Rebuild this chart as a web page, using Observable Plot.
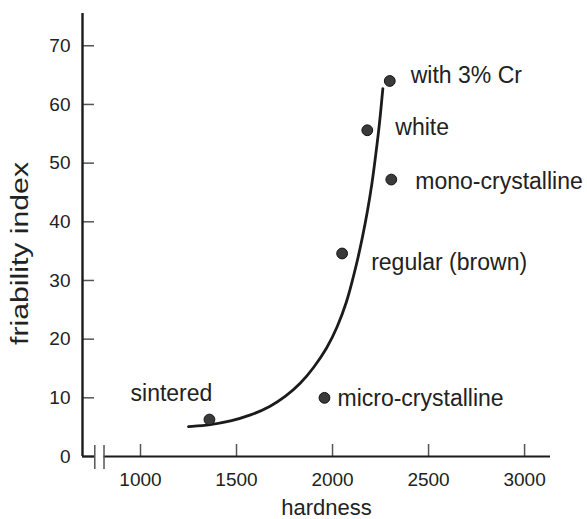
<!DOCTYPE html>
<html>
<head>
<meta charset="utf-8">
<script src="https://cdn.jsdelivr.net/npm/d3@7"></script>
<script src="https://cdn.jsdelivr.net/npm/@observablehq/plot@0.6"></script>
<style>
  html, body { margin: 0; padding: 0; background: #fff; }
  #chart svg { display: block; }
</style>
</head>
<body>
<div id="chart"></div>
<script>
// ---- data ----
const names = ["with 3% Cr", "white", "mono-crystalline", "regular (brown)", "sintered", "micro-crystalline"];
const hardness = [2298, 2181, 2306, 2050, 1359, 1958];
const friability = [64.0, 55.6, 47.2, 34.6, 6.3, 10.0];

const curveHardness = [1250, 1365, 1469, 1573, 1677, 1755, 1833, 1902, 1972, 2024, 2076, 2102, 2129, 2155, 2181, 2206, 2226, 2245, 2262];
const curveFriability = [5.1, 5.4, 6.0, 7.0, 8.5, 10.2, 12.4, 15.1, 18.5, 21.9, 26.5, 29.8, 33.3, 37.2, 41.6, 46.5, 51.7, 56.7, 62.7];

const xTicks = [1000, 1500, 2000, 2500, 3000];
const yTicks = [0, 10, 20, 30, 40, 50, 60, 70];
const xTitle = "hardness";
const yTitle = "friability index";

// ---- build tables ----
const points = names.map((name, i) => ({name, x: hardness[i], y: friability[i]}));
const curve = curveHardness.map((x, i) => ({x, y: curveFriability[i]}));

// ---- layout / style (not data) ----
const W = 587, H = 519;
const mL = 82, mR = 37, mT = 13, mB = 63;
const frameW = W - mL - mR, frameH = H - mT - mB;
const xDomain = [698, 3135];
const yDomain = [0, 75.5];
const breakAt = [762, 810];
const ink = "#1b1b1b";
const labelStyle = {
  "with 3% Cr": {dx: 21, dy: -5, anchor: "start"},
  "white": {dx: 28, dy: -3, anchor: "start"},
  "mono-crystalline": {dx: 24, dy: 2, anchor: "start"},
  "regular (brown)": {dx: 29, dy: 9, anchor: "start"},
  "sintered": {dx: -38, dy: -26, anchor: "middle"},
  "micro-crystalline": {dx: 13, dy: 1, anchor: "start"}
};

const labelMarks = points.map(p => Plot.text([p], {
  x: "x", y: "y", text: "name",
  dx: labelStyle[p.name].dx, dy: labelStyle[p.name].dy,
  textAnchor: labelStyle[p.name].anchor,
  fontSize: 23, fill: "#222"
}));

const chart = Plot.plot({
  width: W, height: H,
  marginLeft: mL, marginRight: mR, marginTop: mT, marginBottom: mB,
  style: {fontFamily: "'Liberation Sans', Arial, Helvetica, sans-serif", background: "#fff", color: "#222"},
  x: {domain: xDomain},
  y: {domain: yDomain},
  marks: [
    // tick labels
    Plot.axisX({ticks: xTicks, tickSize: 0, tickPadding: 16, fontSize: 19, label: null, tickFormat: d => String(d)}),
    Plot.axisY({ticks: yTicks, tickSize: 0, tickPadding: 12, fontSize: 19, label: null}),
    // inward tick marks
    Plot.tickX(xTicks, {x: d => d, insetTop: frameH - 12, stroke: "#555", strokeWidth: 1.5}),
    Plot.tickY(yTicks, {y: d => d, insetRight: frameW - 12, stroke: "#555", strokeWidth: 1.5}),
    // axis lines with break
    Plot.ruleX([xDomain[0]], {stroke: ink, strokeWidth: 2.4}),
    Plot.ruleY([0], {x1: xDomain[0], x2: breakAt[0], stroke: ink, strokeWidth: 2.2}),
    Plot.ruleY([0], {x1: breakAt[1], x2: xDomain[1], stroke: ink, strokeWidth: 2.2}),
    Plot.tickX(breakAt, {x: d => d, insetTop: frameH - 11, insetBottom: -13, stroke: "#555", strokeWidth: 1.5}),
    // fitted curve
    Plot.line(curve, {x: "x", y: "y", curve: "basis", stroke: ink, strokeWidth: 2.8}),
    // points
    Plot.dot(points, {x: "x", y: "y", r: 5.4, fill: "#3a3a3a", stroke: "#111", strokeWidth: 1}),
    ...labelMarks,
    // axis titles
    Plot.text([xTitle], {frameAnchor: "bottom", lineAnchor: "middle", dy: 51, dx: 10, fontSize: 22, fill: "#222"}),
    Plot.text([yTitle], {frameAnchor: "left", textAnchor: "middle", lineAnchor: "middle", rotate: -90, dx: -62, dy: 18.5, fontSize: 23, fill: "#222", className: "ytitle"})
  ]
});

document.getElementById("chart").appendChild(chart);
// stretch the rotated y title to the reference's length
const yt = chart.querySelector(".ytitle text");
if (yt) { yt.setAttribute("textLength", 183); yt.setAttribute("lengthAdjust", "spacingAndGlyphs"); }
</script>
</body>
</html>
